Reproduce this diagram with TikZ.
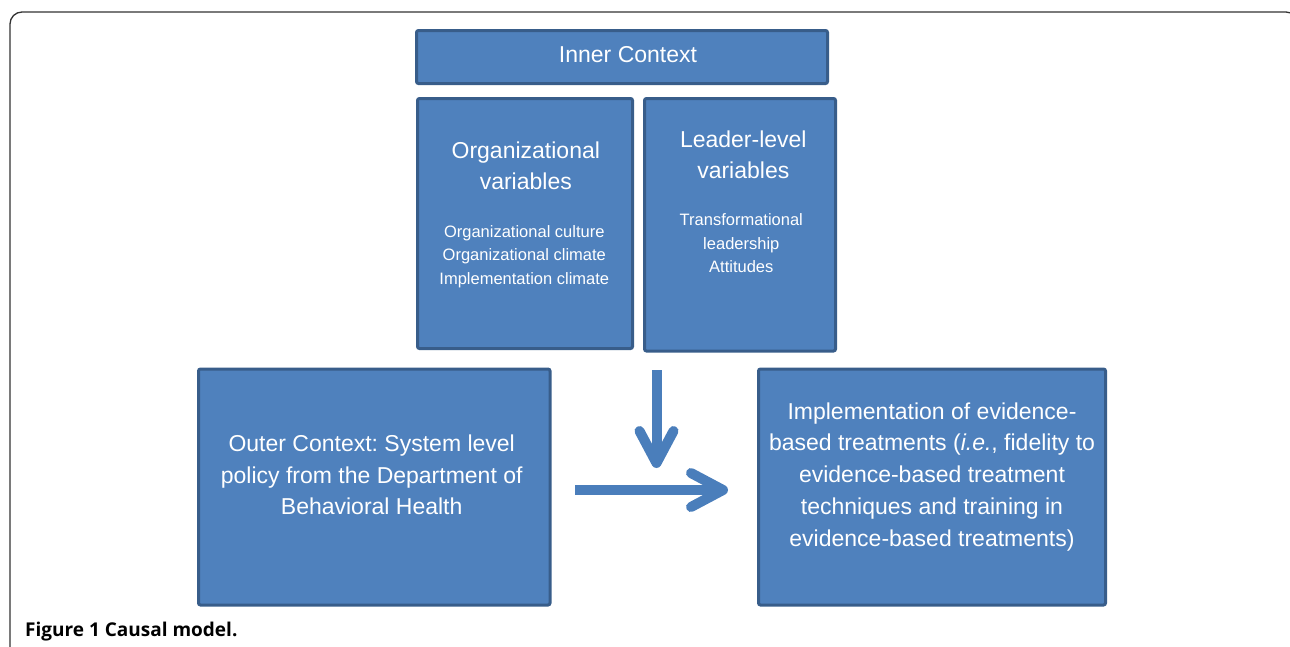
\documentclass[tikz,border=0pt]{standalone}
\usepackage{fontspec}
\setmainfont{Liberation Sans}
\newfontfamily\capfont{Open Sans}
\usetikzlibrary{arrows.meta}
\definecolor{boxfill}{HTML}{4F81BD}
\definecolor{boxline}{HTML}{385D8A}
\definecolor{arrowblue}{HTML}{4A7EBB}
\frenchspacing

\begin{document}
\begin{tikzpicture}[x=1pt,y=-1pt,
	box/.style={draw=boxline, fill=boxfill, line width=3pt, rounded corners=2pt, inner sep=0pt},
	bigtxt/.style={text=white, align=center, inner sep=0pt, font=\fontsize{23}{31.7}\selectfont},
	smalltxt/.style={text=white, align=center, inner sep=0pt, font=\fontsize{16.5}{23.5}\selectfont},
	flow/.style={arrowblue, line width=10pt, -{Straight Barb[length=32pt,width=34pt,round]}}]
	\useasboundingbox (0,0) rectangle (1290,646);
	\clip (0,0) rectangle (1290,646);
	% frame
	\draw[black!80, line width=1.3pt, rounded corners=12pt] (10,700) -- (10,12) -- (1298,12) -- (1298,700);
	
	% inner context
	\node[box, minimum width=411pt, minimum height=53pt] (inner) at (622,57) {};
	\node[bigtxt] (innertxt) at (628,55) {Inner Context};
	
	\node[box, minimum width=215pt, minimum height=250pt] (org) at (525,223.5) {};
	\node[bigtxt] (orgtitle) at (525.8,165.8) {Organizational\\variables};
	\node[smalltxt] (orglist) at (524.3,256.7) {Organizational culture\\Organizational climate\\Implementation climate};
	
	\node[box, minimum width=191pt, minimum height=252.5pt] (lead) at (740,224.75) {};
	\node[bigtxt] (leadtitle) at (743.3,154.9) {Leader-level\\variables};
	\node[smalltxt] (leadlist) at (741.3,243.2) {Transformational\\leadership\\Attitudes};
	
	% outer context and outcome
	\node[box, minimum width=351.5pt, minimum height=236pt] (outer) at (374.25,487) {};
	\node[bigtxt] (outertxt) at (371.7,475) {Outer Context: System level\\policy from the Department of\\Behavioral Health};
	
	\node[box, minimum width=347pt, minimum height=236pt] (impl) at (932,487) {};
	\node[bigtxt] (impltxt) at (932,476.7) {Implementation of evidence-\\based treatments (\textit{i.e.}, fidelity to\\evidence-based treatment\\techniques and training in\\evidence-based treatments)};
	
	% arrows
	\coordinate (downtop) at (656.5,370);
	\coordinate (downtip) at (656.5,468);
	\coordinate (flowstart) at (575,490);
	\coordinate (flowtip) at (728,490);
	\draw[flow] (downtop) -- (downtip);
	\draw[flow] (flowstart) -- (flowtip);
	
	\node[anchor=base west, inner sep=0pt, font=\capfont\bfseries\fontsize{19}{22}\selectfont] (caption) at (25,636) {Figure 1 Causal model.};
\end{tikzpicture}
\end{document}
